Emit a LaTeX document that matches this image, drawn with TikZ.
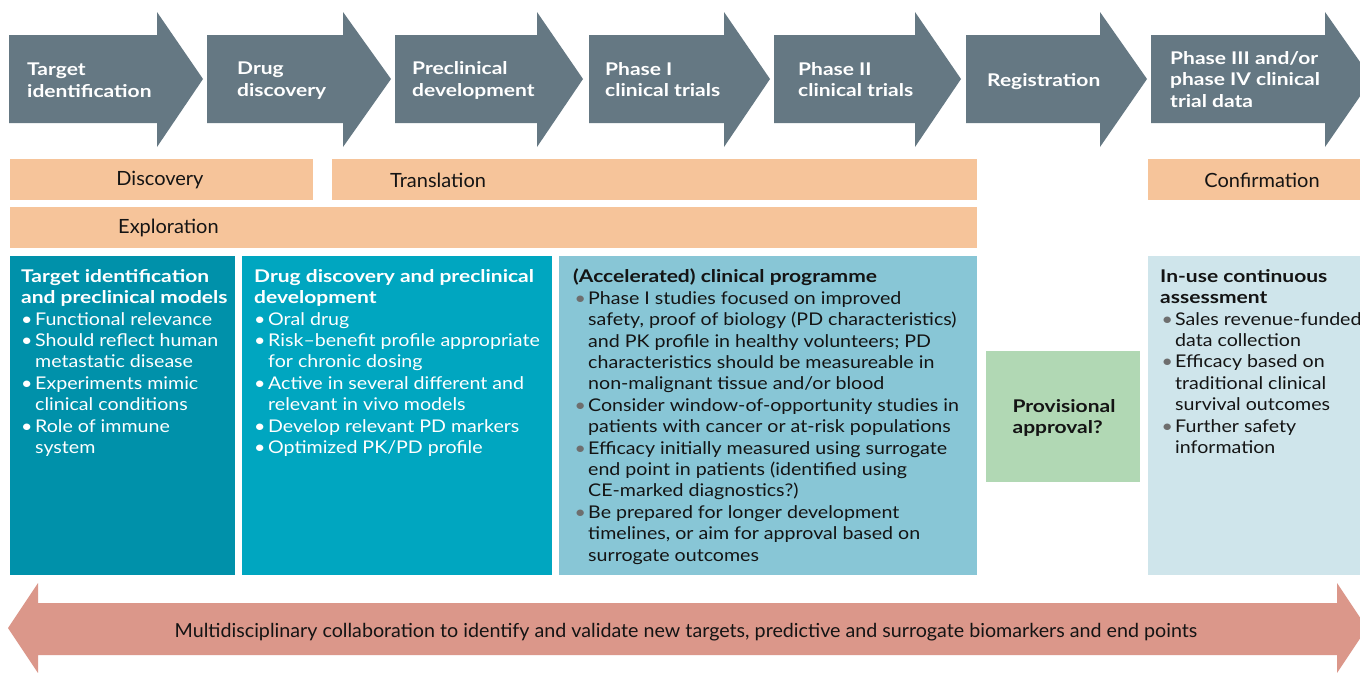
\documentclass[tikz,border=0pt]{standalone}
\usepackage{fontspec}
\setmainfont{Lato}[FakeStretch=1.12]
\newfontfamily\hdrfont{Lato}[FakeStretch=1.2]
\newfontfamily\barfont{Lato}[FakeStretch=1.02]
\definecolor{arrowgray}{RGB}{101,120,131}
\definecolor{barorange}{RGB}{246,196,154}
\definecolor{tealA}{RGB}{0,145,170}
\definecolor{tealB}{RGB}{0,166,192}
\definecolor{blueC}{RGB}{136,198,214}
\definecolor{blueD}{RGB}{207,229,235}
\definecolor{greenP}{RGB}{177,216,180}
\definecolor{salmon}{RGB}{219,151,138}
\definecolor{bulgray}{RGB}{110,110,110}
\definecolor{txt}{RGB}{20,20,20}
\newcommand{\wb}{\makebox[14pt][l]{\textbullet}}
\newcommand{\gb}{\hspace*{1.5pt}\makebox[13.5pt][l]{\textcolor{bulgray}{\textbullet}}}
\newcommand{\gi}{\hspace*{15pt}}
\newcommand{\hd}[1]{{\hdrfont\bfseries #1}}
\newcommand{\stagearrow}[3]{\fill[arrowgray] (#1,35) -- (#2,35) -- (#2,12) -- (#3,79) -- (#2,147) -- (#2,123) -- (#1,123) -- cycle;}
\tikzset{
  stagelabel/.style={anchor=west, align=left, text=white, inner sep=0pt, font=\fontsize{17.5}{21.5}\selectfont\hdrfont\bfseries},
  bar/.style={fill=barorange, anchor=north west, inner sep=0pt},
  barlabel/.style={inner sep=0pt, text=txt, font=\fontsize{19.6}{22}\selectfont\barfont},
  panel/.style={anchor=north west, inner sep=0pt},
  paneltext/.style={anchor=north west, align=left, inner sep=0pt, font=\fontsize{17.5}{21.4}\selectfont},
}
\begin{document}
\begin{tikzpicture}[x=1pt,y=-1pt]
\clip (0,0) rectangle (1360,672);
\fill[white] (0,0) rectangle (1360,672);
% top stage arrows
\stagearrow{9}{157}{203}
\stagearrow{207}{343}{391}
\stagearrow{395}{537}{583}
\stagearrow{589}{724}{770}
\stagearrow{774}{915}{961}
\stagearrow{966}{1100}{1147}
\stagearrow{1151}{1325}{1372}
\node[stagelabel] (s1) at (27,80) {Target\\identification};
\node[stagelabel] (s2) at (237,80.5) {Drug\\discovery};
\node[stagelabel] (s3) at (412,80.5) {Preclinical\\development};
\node[stagelabel] (s4) at (605,79.5) {Phase I\\clinical trials};
\node[stagelabel] (s5) at (798,79.5) {Phase II\\clinical trials};
\node[stagelabel] (s6) at (987,82) {Registration};
\node[stagelabel] (s7) at (1170,79.5) {Phase III and/or\\phase IV clinical\\trial data};
% orange bars
\node[bar, minimum width=303pt, minimum height=41pt] (bDisc) at (10,159) {};
\node[bar, minimum width=645pt, minimum height=41pt] (bTrans) at (332,159) {};
\node[bar, minimum width=212pt, minimum height=41pt] (bConf) at (1148,159) {};
\node[bar, minimum width=967pt, minimum height=41pt] (bExpl) at (10,207) {};
\node[barlabel] (tDisc) at (160,180) {Discovery};
\node[barlabel, anchor=west] (tTrans) at (390,180) {Translation};
\node[barlabel, anchor=west] (tExpl) at (118,228) {Exploration};
\node[barlabel] (tConf) at (1262,180) {Confirmation};
% panels
\node[panel, fill=tealA, minimum width=225pt, minimum height=319pt] (p1) at (10,256) {};
\node[panel, fill=tealB, minimum width=310pt, minimum height=319pt] (p2) at (242,256) {};
\node[panel, fill=blueC, minimum width=418pt, minimum height=319pt] (p3) at (559,256) {};
\node[panel, fill=greenP, minimum width=154pt, minimum height=131pt] (pg) at (986,351) {};
\node[panel, fill=blueD, minimum width=212pt, minimum height=319pt] (p4) at (1148,256) {};
\node[paneltext, text=white] (t1) at (21,269) {\hd{Target identification}\\\hd{and preclinical models}\\
\wb Functional relevance\\
\wb Should reflect human\\\hspace*{14pt}metastatic disease\\
\wb Experiments mimic\\\hspace*{14pt}clinical conditions\\
\wb Role of immune\\\hspace*{14pt}system};
\node[paneltext, text=white] (t2) at (254,269) {\hd{Drug discovery and preclinical}\\\hd{development}\\
\wb Oral drug\\
\wb Risk--benefit profile appropriate\\\hspace*{14pt}for chronic dosing\\
\wb Active in several different and\\\hspace*{14pt}relevant in vivo models\\
\wb Develop relevant PD markers\\
\wb Optimized PK/PD profile};
\node[paneltext, text=txt] (t3) at (573,269) {\hd{(Accelerated) clinical programme}\\
\gb Phase I studies focused on improved\\
\gi safety, proof of biology (PD characteristics)\\
\gi and PK profile in healthy volunteers; PD\\
\gi characteristics should be measureable in\\
\gi non-malignant tissue and/or blood\\
\gb Consider window-of-opportunity studies in\\
\gi patients with cancer or at-risk populations\\
\gb Efficacy initially measured using surrogate\\
\gi end point in patients (identified using\\
\gi CE-marked diagnostics?)\\
\gb Be prepared for longer development\\
\gi timelines, or aim for approval based on\\
\gi surrogate outcomes};
\node[paneltext, anchor=center, text=txt] (tg) at (1064,418) {\hd{Provisional}\\\hd{approval?}};
\node[paneltext, text=txt] (t4) at (1160,269) {\hd{In-use continuous}\\\hd{assessment}\\
\gb Sales revenue-funded\\\gi data collection\\
\gb Efficacy based on\\\gi traditional clinical\\\gi survival outcomes\\
\gb Further safety\\\gi information};
% bottom double arrow
\fill[salmon] (8,628) -- (38,583) -- (38,603) -- (1337,603) -- (1337,583) -- (1367,628) -- (1337,673) -- (1337,655) -- (38,655) -- (38,673) -- cycle;
\node[barlabel, font=\fontsize{19.3}{22}\selectfont\barfont] (tb) at (686,632) {Multidisciplinary collaboration to identify and validate new targets, predictive and surrogate biomarkers and end points};
\end{tikzpicture}
\end{document}
